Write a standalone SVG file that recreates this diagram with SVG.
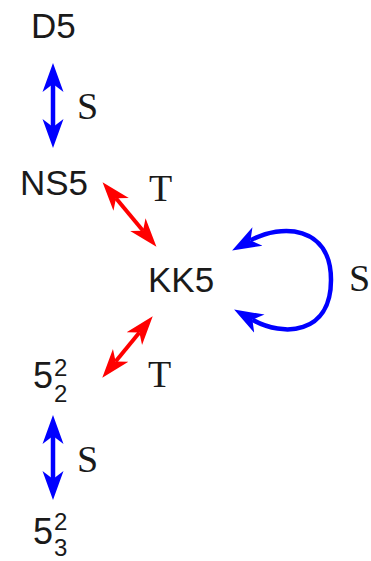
<svg xmlns="http://www.w3.org/2000/svg" width="371" height="561" viewBox="0 0 371 561">
<style>
.sans{font-family:"Liberation Sans",Arial,sans-serif;font-size:35px;fill:#1a1a1a}
.big{font-size:36px}
.lbl{font-family:"Liberation Serif","Times New Roman",serif;font-size:38px;fill:#1a1a1a}
.sup{font-family:"Liberation Sans",Arial,sans-serif;font-size:24px;fill:#1a1a1a}
.blue{stroke:#0000ff;stroke-width:4.5;fill:none}
.red{stroke:#ff0000;stroke-width:4;fill:none}
</style>
<defs>
<marker id="hb" markerUnits="userSpaceOnUse" markerWidth="30" markerHeight="24" viewBox="0 -12 30 24" refX="8" refY="0" orient="auto-start-reverse">
<path d="M0,-10.5 L29,0 L0,10.5 L8,0 Z" fill="#0000ff"/>
</marker>
<marker id="hr" markerUnits="userSpaceOnUse" markerWidth="30" markerHeight="24" viewBox="0 -12 30 24" refX="8" refY="0" orient="auto-start-reverse">
<path d="M0,-10 L29,0 L0,10 L8,0 Z" fill="#ff0000"/>
</marker>
</defs>
<g id="D5"><text class="sans" x="31" y="38">D5</text></g>
<g id="NS5"><text class="sans" x="20" y="195">NS5</text></g>
<g id="KK5"><text class="sans" x="148" y="292">KK5</text></g>
<g id="five22"><text class="sans big" x="33" y="388">5</text><text class="sup" x="54" y="376">2</text><text class="sup" x="54" y="402">2</text></g>
<g id="five32"><text class="sans big" x="33" y="544">5</text><text class="sup" x="54" y="530">2</text><text class="sup" x="54" y="556">3</text></g>
<g id="connectors">
<line class="blue" x1="53" y1="84" x2="53" y2="127" marker-start="url(#hb)" marker-end="url(#hb)"/>
<line class="blue" x1="53" y1="436" x2="53" y2="479" marker-start="url(#hb)" marker-end="url(#hb)"/>
<line class="red" x1="116" y1="198.3" x2="143" y2="230.7" marker-start="url(#hr)" marker-end="url(#hr)"/>
<line class="red" x1="139.4" y1="332.5" x2="115.6" y2="361.5" marker-start="url(#hr)" marker-end="url(#hr)"/>
<path class="blue" d="M250.5,240.4 C281,223.6 331,225 331,280 C331,335 283,337 252.4,319.8" marker-start="url(#hb)" marker-end="url(#hb)"/>
<text class="lbl" x="77" y="119">S</text>
<text class="lbl" x="77" y="472">S</text>
<text class="lbl" x="349" y="291">S</text>
<text class="lbl" x="149" y="201">T</text>
<text class="lbl" x="148" y="387">T</text>
</g>
</svg>
